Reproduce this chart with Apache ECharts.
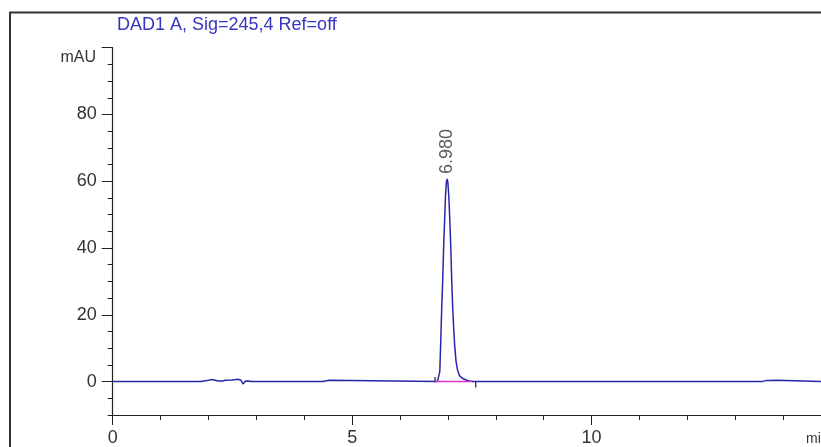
<!DOCTYPE html>
<html><head><meta charset="utf-8">
<script src="https://cdn.jsdelivr.net/npm/echarts@6/dist/echarts.min.js"></script>
<style>html,body{margin:0;padding:0;background:#fff}#c{width:821px;height:447px}</style>
</head><body><div id="c"></div>
<script>
const titleText = 'DAD1 A, Sig=245,4 Ref=off';
const yUnit = 'mAU';
const xUnit = 'min';
const times = [0, 1.84, 1.86, 2.00, 2.06, 2.12, 2.20, 2.30, 2.35, 2.50, 2.62, 2.68, 2.72, 2.77, 2.82, 2.90, 3.17, 3.19, 3.21,
  4.38, 4.42, 4.52, 4.56,
  6.78, 6.81, 6.83, 6.85, 6.87, 6.89, 6.91, 6.93, 6.95, 6.97, 6.985, 7.00, 7.02, 7.04, 7.06, 7.08, 7.10, 7.12, 7.14, 7.17, 7.20, 7.24, 7.30, 7.38, 7.45, 7.52,
  13.55, 13.58, 13.64, 13.67, 13.72, 13.86, 13.90, 14.79];
const signal = [0, 0, 0.4, 0.4, 0.6, 0.5, 0.2, 0.2, 0.4, 0.5, 0.7, 0.4, -0.7, 0.1, 0.2, 0, 0, 0.3, 0,
  0, 0.4, 0.4, 0,
  0, 0.4, 3, 12, 22, 30, 40, 48, 56, 60, 60.7, 59.5, 55, 48, 40, 30, 22, 16, 11, 6, 3.5, 1.8, 1.0, 0.5, 0.2, 0,
  0, 0.4, 0.3, -0.1, 0.3, 0.4, 0, 0];
const peakTime = [6.98];
const peakHeight = [60.7];
const peakLabel = ['6.980'];
const baselineTimes = [6.73, 7.50];
const baselineValues = [0, 0];
const startMarkTimes = [6.73, 6.73];
const startMarkValues = [0, 1.4];
const endMarkTimes = [7.58, 7.58];
const endMarkValues = [0, -1.8];
const xMajorTicks = [0, 5, 10];
const yMajorTicks = [0, 20, 40, 60, 80, 100];
const yTickLabels = [0, 20, 40, 60, 80];

const FONT = '"Liberation Sans", Arial, sans-serif';
const chart = echarts.init(document.getElementById('c'), null, {renderer: 'canvas'});
const pts = (xs, ys) => xs.map((x, i) => [x, ys[i]]);
const axisCommon = {splitLine: {show: false}};
chart.setOption({
  backgroundColor: '#ffffff',
  animation: false,
  grid: {left: 112.7, right: 0, top: 47.7, bottom: 31},
  xAxis: [
    Object.assign({type: 'value', min: 0, max: 14.79, interval: 1, position: 'bottom',
      axisLine: {show: true, onZero: false, lineStyle: {color: '#222', width: 1.2}},
      axisTick: {show: true, length: 5, lineStyle: {color: '#222'}},
      axisLabel: {show: false}}, axisCommon),
    Object.assign({type: 'value', min: 0, max: 14.79, position: 'bottom',
      axisLine: {show: false, onZero: false},
      axisTick: {show: true, length: 10, customValues: xMajorTicks, lineStyle: {color: '#222'}},
      axisLabel: {show: true, customValues: xMajorTicks, margin: 14, fontSize: 18, color: '#333', fontFamily: FONT}}, axisCommon)
  ],
  yAxis: [
    Object.assign({type: 'value', min: -10, max: 100, interval: 5, position: 'left',
      axisLine: {show: true, onZero: false, lineStyle: {color: '#222', width: 1.2}},
      axisTick: {show: true, length: 5, lineStyle: {color: '#222'}},
      axisLabel: {show: false}}, axisCommon),
    Object.assign({type: 'value', min: -10, max: 100, position: 'left',
      axisLine: {show: false, onZero: false},
      axisTick: {show: true, length: 11, customValues: yMajorTicks, lineStyle: {color: '#222'}},
      axisLabel: {show: true, customValues: yTickLabels, margin: 16, fontSize: 18, color: '#333', fontFamily: FONT}}, axisCommon)
  ],
  series: [
    {type: 'line', xAxisIndex: 0, yAxisIndex: 0, data: pts(times, signal), showSymbol: false, symbol: 'none',
      lineStyle: {color: '#2626a8', width: 1.5}, z: 3},
    {type: 'line', xAxisIndex: 0, yAxisIndex: 0, data: pts(baselineTimes, baselineValues), symbol: 'none',
      lineStyle: {color: '#e030d0', width: 1.5}, z: 4},
    {type: 'line', xAxisIndex: 0, yAxisIndex: 0, data: pts(startMarkTimes, startMarkValues), symbol: 'none',
      lineStyle: {color: '#222', width: 1.2}, z: 5},
    {type: 'line', xAxisIndex: 0, yAxisIndex: 0, data: pts(endMarkTimes, endMarkValues), symbol: 'none',
      lineStyle: {color: '#222', width: 1.2}, z: 5},
    {type: 'scatter', xAxisIndex: 0, yAxisIndex: 0, data: pts(peakTime, peakHeight), symbolSize: 0,
      label: {show: true, formatter: p => peakLabel[p.dataIndex], position: 'top', distance: 5, rotate: 90,
        align: 'left', verticalAlign: 'middle', fontSize: 18, color: '#333', fontFamily: FONT}, z: 6}
  ],
  graphic: [
    {type: 'rect', shape: {x: 10, y: 12.5, width: 900, height: 600}, style: {fill: 'none', stroke: '#333', lineWidth: 2}, silent: true},
    {type: 'text', x: 117, y: 25, style: {text: titleText, fill: '#3535c0', fontSize: 18, fontFamily: FONT, textVerticalAlign: 'middle'}},
    {type: 'text', x: 96, y: 58, style: {text: yUnit, fill: '#333', fontSize: 16, fontFamily: FONT, textAlign: 'right', textVerticalAlign: 'middle'}},
    {type: 'text', x: 806, y: 439, style: {text: xUnit, fill: '#333', fontSize: 14, fontFamily: FONT, textVerticalAlign: 'middle'}}
  ]
});
</script>
</body></html>
